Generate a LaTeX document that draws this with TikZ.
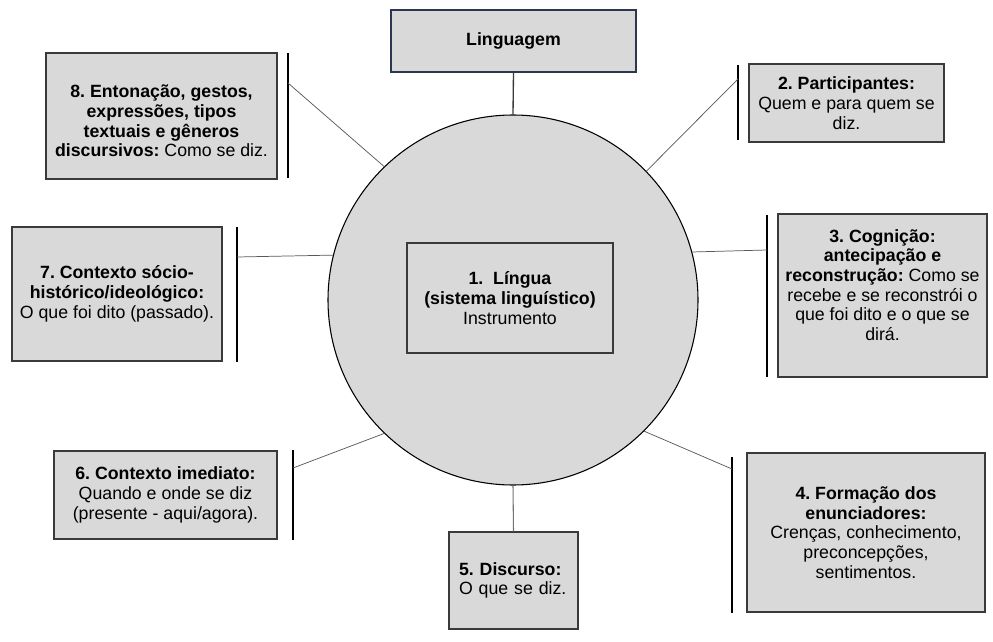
\documentclass[tikz,border=0pt]{standalone}
\usepackage{fontspec}
\setmainfont{Liberation Sans}
\usetikzlibrary{positioning}
\frenchspacing
\definecolor{boxgray}{HTML}{D9D9D9}
\definecolor{edgegray}{HTML}{3A3A3A}
\definecolor{navyedge}{HTML}{2B3650}
\tikzset{
card/.style={draw=edgegray, line width=0.8pt, fill=boxgray}, % grey boxes
bracket/.style={draw=black, line width=1pt}, % vertical bar beside a box
link/.style={draw=black!65, line width=0.55pt}, % thin line to the circle
}

\begin{document}
\begin{tikzpicture}[x=0.75pt, y=-0.75pt,
  every node/.style = {shape=rectangle, align=center, inner sep=0pt,
    font=\fontsize{13.3}{14.8}\selectfont}]
  \useasboundingbox (0,0) rectangle (993,642);

  \node[circle, draw=black, line width=0.8pt, fill=boxgray, minimum size=277.5pt] (circ) at (513,300) {};
  \node[card, minimum width=154.5pt, minimum height=82.5pt] (lingua) at (510,298)
    {\textbf{1.\ \ Língua}\\ \textbf{(sistema linguístico)}\\ Instrumento};

  \node[card, draw=navyedge, minimum width=183.75pt, minimum height=46.5pt] (linguagem) at (513.5,41)
    {\textbf{Linguagem}};
  \node[card, minimum width=146.25pt, minimum height=58.5pt] (participantes) at (846.5,103)
    {\textbf{2. Participantes:}\\ Quem e para quem se\\ diz.};
  \node[card, minimum width=156.75pt, minimum height=122.25pt] (cognicao) at (882.5,295.5) {};
  \node (cognicaotxt) at (882.5,285)
    {\textbf{3. Cognição:}\\ \textbf{antecipação e}\\ \textbf{reconstrução:} Como se\\ recebe e se reconstrói o\\ que foi dito e o que se\\ dirá.};
  \node[card, minimum width=178.5pt, minimum height=119.25pt] (formacao) at (866,532.5)
    {\textbf{4. Formação dos}\\ \textbf{enunciadores:}\\ Crenças, conhecimento,\\ preconcepções,\\ sentimentos.};
  \node[card, align=left, text width=81.75pt, minimum width=96.75pt, minimum height=72.75pt] (discurso) at (513.5,580.5)
    {\textbf{5. Discurso:}\\ O que se diz.};
  \node[card, minimum width=167.25pt, minimum height=66pt] (imediato) at (165.5,495)
    {\textbf{6. Contexto imediato:}\\ Quando e onde se diz\\ (presente - aqui/agora).};
  \node[card, minimum width=157.5pt, minimum height=100.5pt] (historico) at (117,294)
    {\textbf{7. Contexto sócio-}\\ \textbf{histórico/ideológico:}\\ O que foi dito (passado).};
  \node[card, minimum width=173.25pt, minimum height=94.5pt] (entonacao) at (161.5,116) {};
  \node (entonacaotxt) at (161.5,121)
    {\textbf{8. Entonação, gestos,}\\ \textbf{expressões, tipos}\\ \textbf{textuais e gêneros}\\ \textbf{discursivos:} Como se diz.};

  % bars beside the boxes
  \draw[bracket] (738,65) -- (738,140);
  \draw[bracket] (767,215) -- (767,377);
  \draw[bracket] (732,457) -- (732,613);
  \draw[bracket] (293,450) -- (293,540);
  \draw[bracket] (237,227) -- (237,362);
  \draw[bracket] (288,53) -- (288,178);

  \coordinate (b2) at (738,79);
  \coordinate (b3) at (767,250);
  \coordinate (b4) at (732,469);
  \coordinate (b6) at (293,468);
  \coordinate (b7) at (237,257);
  \coordinate (b8) at (288,83);

  \draw[draw=edgegray, line width=1pt] (linguagem.south) -- (circ.north);
  \draw[draw=black!55, line width=0.8pt] (circ.south) -- (discurso.north);
  \draw[link] (b2) -- (circ.44.8);
  \draw[link] (b3) -- (circ.15.7);
  \draw[link] (b4) -- (circ.-45.2);
  \draw[link] (b6) -- (circ.-134.3);
  \draw[link] (b7) -- (circ.166.6);
  \draw[link] (b8) -- (circ.134);
\end{tikzpicture}
\end{document}
